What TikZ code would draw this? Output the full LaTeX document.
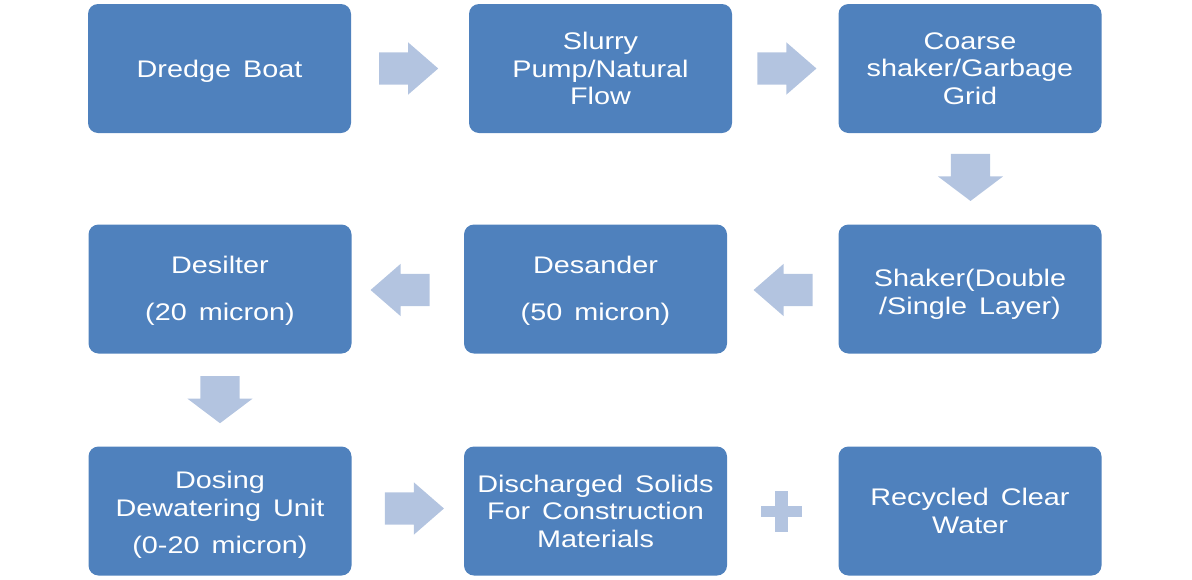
\documentclass[tikz,border=0pt]{standalone}
\usepackage{fontspec}
\setmainfont{Liberation Sans}[FakeStretch=1.2, WordSpace=1.5]
\usetikzlibrary{shapes.arrows, calc}
\definecolor{boxblue}{HTML}{4F81BD}
\definecolor{arrowblue}{HTML}{B3C4E0}

\begin{document}
\begin{tikzpicture}[x=1pt, y=-1pt,
  stage/.style={rectangle, rounded corners=10pt, fill=boxblue, text=white,
    minimum width=263pt, minimum height=129pt, inner sep=0pt, align=center,
    font=\fontsize{24}{27.5}\selectfont},
  flow/.style={single arrow, fill=arrowblue, inner xsep=0pt, inner ysep=16pt,
    minimum height=59pt, single arrow head extend=10pt, single arrow tip angle=82,
    anchor=tail},
  flowdown/.style={single arrow, fill=arrowblue, inner xsep=0pt, inner ysep=19.5pt,
    minimum height=47pt, single arrow head extend=13pt, single arrow tip angle=106,
    anchor=tail, rotate=-90}]
  \useasboundingbox (0,0) rectangle (1192,579);
  % first row
  \node[stage] (boat) at (219.5,68.5) {\rule{0pt}{23.5pt}Dredge Boat};
  \node[stage] (pump) at (600.5,68.5) {Slurry\\Pump/Natural\\Flow};
  \node[stage] (coarse) at (970,68.5) {Coarse\\shaker/Garbage\\Grid};
  % second row
  \node[stage] (shaker) at (970,289) {\rule{0pt}{28pt}Shaker(Double\\/Single Layer)};
  \node[stage] (desander) at (595.5,289) {\rule{0pt}{20.5pt}Desander\\[19pt](50 micron)};
  \node[stage] (desilter) at (220,289) {\rule{0pt}{20.5pt}Desilter\\[19pt](20 micron)};
  % third row
  \node[stage] (dosing) at (220,511) {\rule{0pt}{25.5pt}Dosing\\Dewatering Unit\\[10pt](0-20 micron)};
  \node[stage] (solids) at (595.5,511) {Discharged Solids\\For Construction\\Materials};
  \node[stage] (water) at (970,511) {Recycled Clear\\Water};
  % block arrows
  \node[flow] (f1) at ($(boat.east)!0.5!(pump.west)+(-31,0)$) {};
  \node[flow] (f2) at ($(pump.east)!0.5!(coarse.west)+(-28,0)$) {};
  \node[flowdown] (f3) at ($(coarse.south)!0.5!(shaker.north)+(0.5,-25)$) {};
  \node[flow, rotate=180] (f4) at ($(shaker.west)!0.5!(desander.east)+(30,1)$) {};
  \node[flow, rotate=180] (f5) at ($(desander.west)!0.5!(desilter.east)+(22,1)$) {};
  \node[flowdown] (f6) at ($(desilter.south)!0.5!(dosing.north)+(0,-24)$) {};
  \node[flow] (f7) at ($(dosing.east)!0.5!(solids.west)+(-23,-2.5)$) {};
  % plus sign
  \coordinate (plus) at ($(solids.east)!0.5!(water.west)+(-1.5,0.5)$);
  \fill[arrowblue] ($(plus)+(-20.5,-5.5)$) rectangle ($(plus)+(20.5,5.5)$);
  \fill[arrowblue] ($(plus)+(-6.5,-20.5)$) rectangle ($(plus)+(6.5,20.5)$);
\end{tikzpicture}
\end{document}
